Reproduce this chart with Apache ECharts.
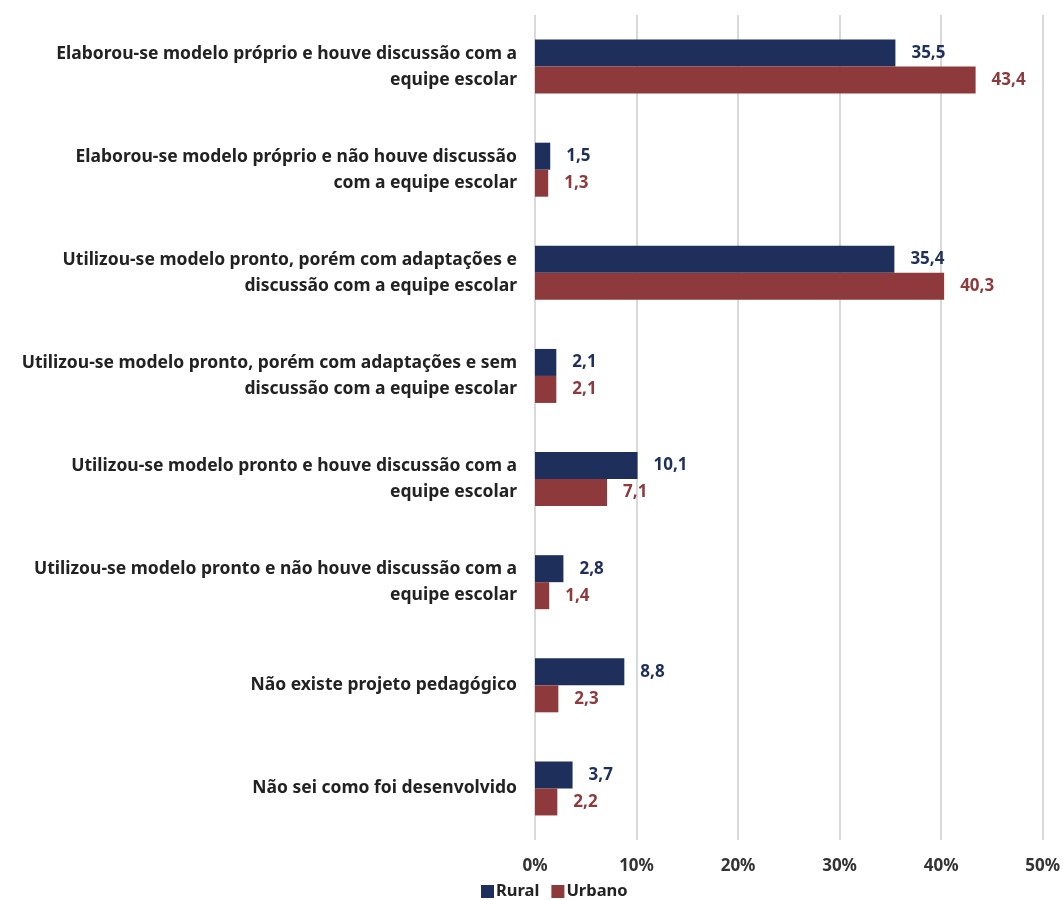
<!DOCTYPE html>
<html lang="pt">
<head>
    <meta charset="UTF-8">
    <title>Projeto pedagógico</title>
    <script src="https://cdn.jsdelivr.net/npm/echarts@6/dist/echarts.min.js"></script>
    <style type="text/css">
        html, body { margin: 0; height: 100%; background: #fff; }
        #chart { width: 1063px; height: 900px; }
    </style>
</head>
<body>
    <div id="chart"></div>
    <script type="text/javascript">
        var categories = [
            'Elaborou-se modelo próprio e houve discussão com a\nequipe escolar',
            'Elaborou-se modelo próprio e não houve discussão\ncom a equipe escolar',
            'Utilizou-se modelo pronto, porém com adaptações e\ndiscussão com a equipe escolar',
            'Utilizou-se modelo pronto, porém com adaptações e sem\ndiscussão com a equipe escolar',
            'Utilizou-se modelo pronto e houve discussão com a\nequipe escolar',
            'Utilizou-se modelo pronto e não houve discussão com a\nequipe escolar',
            'Não existe projeto pedagógico',
            'Não sei como foi desenvolvido'
        ];
        var rural = [35.5, 1.5, 35.4, 2.1, 10.1, 2.8, 8.8, 3.7];
        var urbano = [43.4, 1.3, 40.3, 2.1, 7.1, 1.4, 2.3, 2.2];

        var font = 'Noto Sans';
        // numbers written with a comma, one decimal
        function fmt(p) { return p.value.toFixed(1).replace('.', ','); }

        var myChart = echarts.init(document.getElementById('chart'));
        var option = {
            backgroundColor: '#fff',
            animation: false,
            grid: { left: 535, right: 20, top: 15, bottom: 60, containLabel: false },
            legend: {
                data: ['Rural', 'Urbano'],
                left: 476,
                top: 881,
                padding: [2, 5, 0, 5],
                itemWidth: 13,
                itemHeight: 13,
                itemGap: 12,
                icon: 'rect',
                textStyle: { fontFamily: font, fontWeight: 'bold', fontSize: 16.5, color: '#222', padding: [0, 0, 0, -3] }
            },
            xAxis: {
                type: 'value',
                min: 0,
                max: 50,
                interval: 10,
                axisLine: { show: false },
                axisTick: { show: false },
                axisLabel: {
                    formatter: '{value}%',
                    margin: 18,
                    fontFamily: font, fontWeight: 'bold', fontSize: 17, color: '#333'
                },
                splitLine: { lineStyle: { color: '#d9d9d9', width: 2 } }
            },
            yAxis: {
                type: 'category',
                data: categories,
                inverse: true,
                axisLine: { show: false },
                axisTick: { show: false },
                axisLabel: {
                    margin: 18,
                    align: 'right',
                    lineHeight: 26,
                    fontFamily: font, fontWeight: 'bold', fontSize: 17.5, color: '#222'
                }
            },
            series: [
                {
                    name: 'Rural',
                    type: 'bar',
                    data: rural,
                    barWidth: 27,
                    barGap: '0%',
                    itemStyle: { color: '#1f2f5c' },
                    label: {
                        show: true, position: 'right', distance: 16, formatter: fmt,
                        fontFamily: font, fontWeight: 'bold', fontSize: 17, color: '#1f2f5c'
                    }
                },
                {
                    name: 'Urbano',
                    type: 'bar',
                    data: urbano,
                    barWidth: 27,
                    barGap: '0%',
                    itemStyle: { color: '#8e3a3d' },
                    label: {
                        show: true, position: 'right', distance: 16, formatter: fmt,
                        fontFamily: font, fontWeight: 'bold', fontSize: 17, color: '#8e3a3d'
                    }
                }
            ]
        };
        myChart.setOption(option);
    </script>
</body>
</html>
